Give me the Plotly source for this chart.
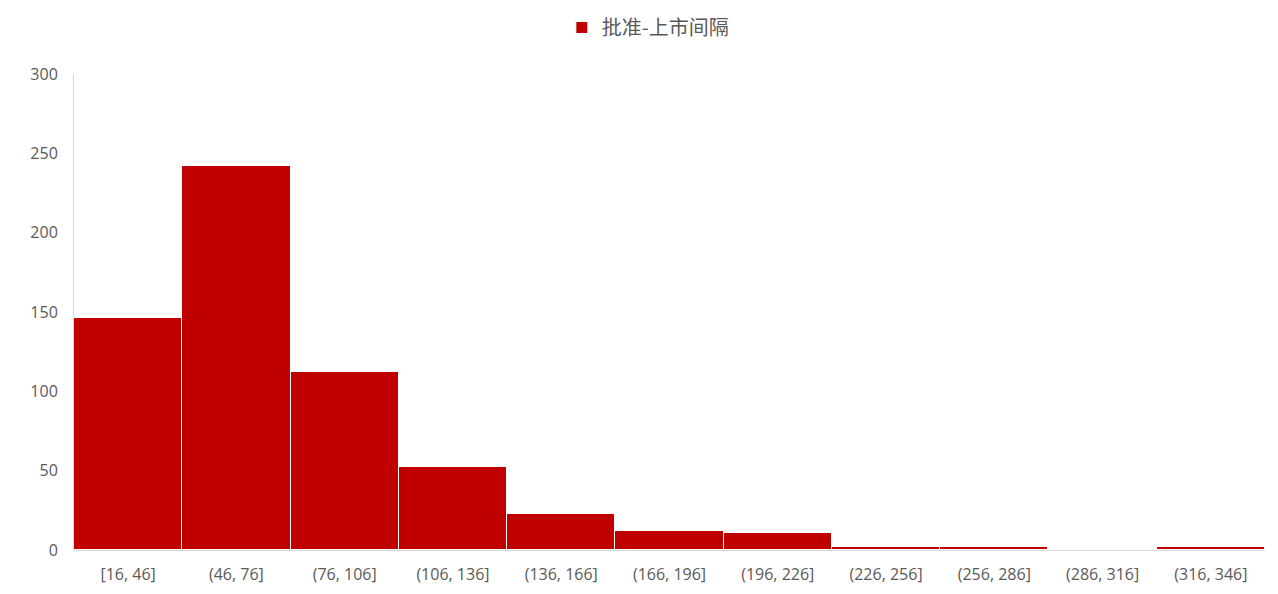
import plotly.graph_objects as go

categories = ["[16, 46]", "(46, 76]", "(76, 106]", "(106, 136]", "(136, 166]", "(166, 196]",
              "(196, 226]", "(226, 256]", "(256, 286]", "(286, 316]", "(316, 346]"]
counts = [146, 242, 112, 52, 23, 12, 11, 2, 2, 0, 2]
series_name = "批准-上市间隔"
y_ticks = [0, 50, 100, 150, 200, 250, 300]

fig = go.Figure()
fig.add_trace(go.Bar(
    x=categories, y=counts, name=series_name,
    marker=dict(color="#C00000", line=dict(color="#FFFFFF", width=1)),
    showlegend=True,
))

tick_font = dict(family="Open Sans, Noto Sans, sans-serif", size=16, color="#595959")

fig.update_layout(
    width=1262, height=578,
    paper_bgcolor="white", plot_bgcolor="white",
    margin=dict(l=66, r=5, t=66, b=36),
    bargap=0,
    font=dict(family="Noto Sans CJK SC, Noto Sans, sans-serif", color="#595959", size=15),
    legend=dict(orientation="h", x=0.507, xanchor="center", xref="container",
                y=1.0, yanchor="top", yref="container",
                font=dict(family="Noto Sans CJK SC, sans-serif", size=20, color="#595959"),
                itemwidth=30),
    xaxis=dict(showline=True, linecolor="#D9D9D9", linewidth=1, ticks="",
               showgrid=False, tickfont=tick_font, ticklabelstandoff=10, automargin=False),
    yaxis=dict(range=[0, 300], tickvals=y_ticks, showgrid=False, showline=True,
               linecolor="#D9D9D9", linewidth=1, ticks="", zeroline=False,
               tickfont=tick_font, ticklabelstandoff=12, automargin=False),
)

fig.write_html("out.html")
